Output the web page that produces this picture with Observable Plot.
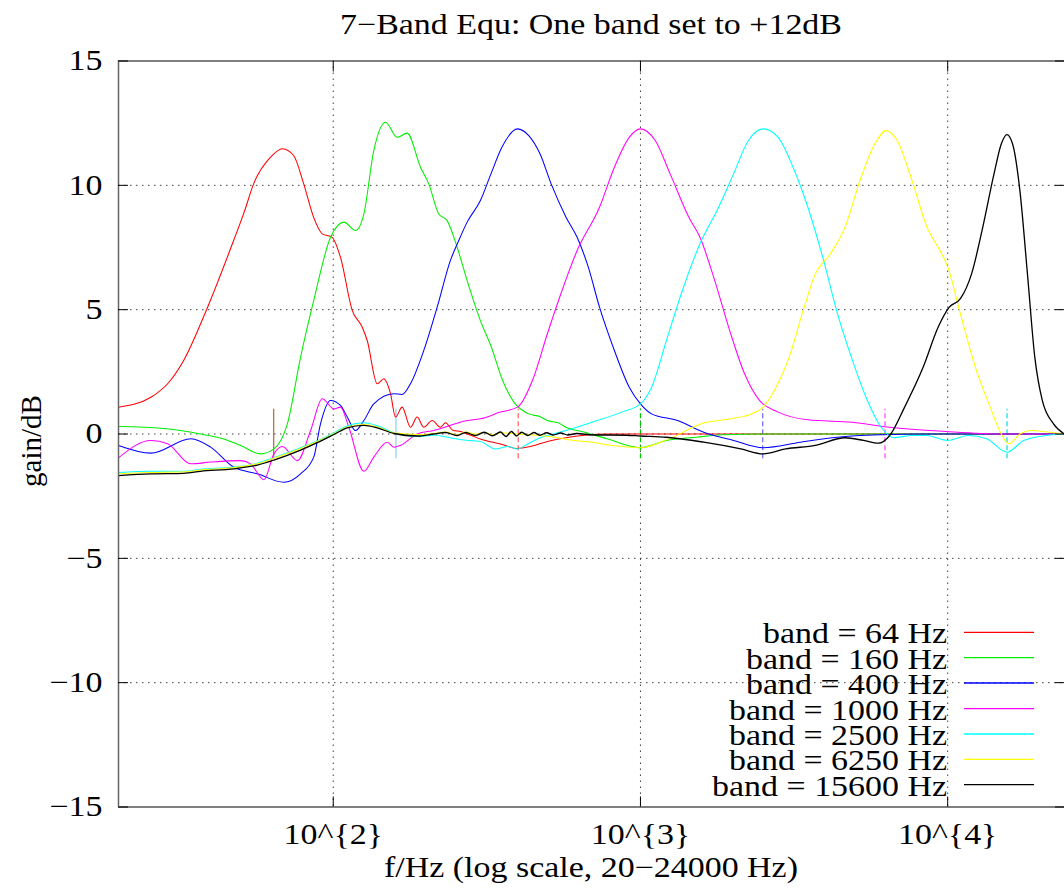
<!DOCTYPE html>
<html><head><meta charset="utf-8">
<script src="https://cdn.jsdelivr.net/npm/d3@7"></script>
<script src="https://cdn.jsdelivr.net/npm/@observablehq/plot@0.6"></script>
<style>
html,body{margin:0;padding:0;background:#fff;}
#chart{width:1064px;height:893px;overflow:hidden;}
</style></head><body><div id="chart"></div>
<script>
// ---- data ----
const titleText = "7\u2212Band Equ: One band set to +12dB";
const xLabelText = "f/Hz (log scale, 20\u221224000 Hz)";
const yLabelText = "gain/dB";
const bandLabels = ["band = 64 Hz","band = 160 Hz","band = 400 Hz","band = 1000 Hz","band = 2500 Hz","band = 6250 Hz","band = 15600 Hz"];
const bandFreqs = [64,160,400,1000,2500,6250,15600];
const markerLevels = [-1, 1];
const xTickValues = [100, 1000, 10000];
const yTickValues = [-15,-10,-5,0,5,10,15];
const gridYValues = [-10,-5,0,5,10];

const band64 = [[20,1.08],[25.5,1.48],[28.9,2.02],[32.6,2.96],[39,5.1],[47.4,7.78],[51.3,8.92],[55.1,10.07],[62.5,11.13],[68.3,11.47],[74.3,11.2],[80.1,10.07],[86.3,8.72],[92.1,8.05],[99.2,7.91],[105.6,7.1],[115.3,4.97],[124.2,4.3],[129,3.76],[139,2.02],[146.1,2.22],[153.6,1.62],[159.5,0.68],[167.6,1.08],[178.4,0.27],[187.6,0.68],[197.1,0.27],[209.9,0.54],[223.3,0.27],[232,0.45],[245,0.15],[260,0.1],[280,-0.05],[301,-0.2],[350,-0.4],[397,-0.58],[438,-0.5],[498,-0.3],[572,-0.15],[658,-0.05],[780,0],[24000,0]];
const band160 = [[20,0.3],[28,0.22],[37,0.0],[44,-0.2],[49.9,-0.46],[58,-0.8],[64.1,-0.6],[70.9,0.41],[78.3,3.09],[86.4,5.37],[98,7.91],[108.3,8.52],[118.2,8.18],[125.8,8.85],[135.5,11.4],[148,12.54],[161.5,11.93],[174,12.1],[192.3,10.73],[204.6,10.06],[220.5,8.85],[234.8,8.58],[253.1,7.51],[272.8,6.17],[301.3,4.56],[327.2,3.49],[356,2.15],[387.3,1.28],[432.9,0.81],[470,0.7],[497.7,0.54],[540,0.45],[572.4,0.27],[657.9,0.07],[777.5,-0.19],[1000,-0.55],[1215,-0.26],[1519,-0.13],[1845,-0.03],[2500,0],[24000,0]];
const band400 = [[20,-0.46],[25.5,-0.77],[34.4,-0.19],[39.9,-0.53],[47.4,-1.33],[56.6,-1.6],[69.1,-1.94],[78.3,-1.6],[86.4,-0.93],[90.9,0.41],[98,1.35],[105.6,1.15],[111.1,0.68],[118.2,0.14],[125.8,0.54],[135.5,1.21],[157.5,1.62],[167.6,1.59],[178.4,2.02],[197.1,3.36],[217.9,5.1],[240.7,6.98],[256.2,7.78],[272.8,8.52],[301.3,9.39],[327,10.5],[353,11.5],[398.1,12.27],[432.9,12.0],[470.9,11.27],[512.1,10.06],[572.4,8.72],[622.2,7.91],[676.4,6.71],[735.7,5.1],[822.5,3.36],[919.5,1.88],[1000,1.21],[1087,0.81],[1321,0.54],[1607,0.07],[2009,-0.26],[2508,-0.55],[3317,-0.33],[4381,-0.13],[6124,-0.03],[8000,0],[24000,0]];
const band1000 = [[20,-0.96],[25.5,-0.26],[28.9,-0.39],[34.4,-1.2],[39.9,-1.13],[49.9,-1.07],[53.8,-1.2],[59.5,-1.84],[64.1,-0.8],[68.3,-0.5],[76.4,-1.07],[84.4,0.14],[92.1,1.42],[100.5,1.01],[105.6,1.08],[112.4,0.27],[125.8,-1.5],[135.5,-0.93],[149.8,-0.33],[157.5,-0.53],[165.5,-0.46],[187.6,0.0],[212.4,0.14],[272.8,0.54],[301.3,0.61],[350,0.88],[398.1,1.08],[445.1,2.15],[497.7,4.03],[541.2,5.37],[622.2,7.38],[735.7,9.12],[822.5,10.73],[919.5,11.93],[1000,12.27],[1117,11.8],[1249,10.46],[1437,8.72],[1562,7.91],[1745,6.17],[1952,4.16],[2182,2.42],[2440,1.35],[2807,0.88],[3506,0.57],[4898,0.47],[6477,0.27],[9835,0.1],[14950,0],[24000,0]];
const band2500 = [[20,-1.55],[25.5,-1.5],[32.6,-1.5],[37,-1.42],[47.4,-1.33],[56.6,-1.18],[64.1,-0.95],[78.3,-0.55],[88.7,-0.28],[100.5,0.05],[111.1,0.32],[125.8,0.45],[139,0.33],[157.5,0.05],[187.6,-0.1],[212.4,-0.05],[240,-0.15],[270,-0.25],[301,-0.3],[337,-0.6],[370,-0.5],[398,-0.6],[430,-0.4],[471,-0.15],[520,0.0],[572,0.14],[695,0.47],[869,0.88],[1000,1.21],[1087,1.88],[1215,3.76],[1358,5.64],[1562,7.65],[1797,9.12],[2009,10.46],[2245,11.8],[2508,12.27],[2807,11.93],[3137,10.73],[3506,9.12],[3920,7.11],[4381,4.83],[4898,2.96],[5476,1.35],[6124,0.21],[6660,-0.15],[7655,-0.06],[8557,-0.06],[10007,-0.26],[11630,-0.06],[13380,-0.19],[15590,-0.73],[17680,-0.26],[20880,-0.06],[24000,0]];
const band6250 = [[20,-1.6],[25.5,-1.55],[32.6,-1.52],[37,-1.45],[47.4,-1.35],[56.6,-1.2],[64.1,-0.98],[78.3,-0.58],[88.7,-0.3],[100.5,0.02],[111.1,0.28],[125.8,0.38],[139,0.28],[157.5,0.05],[187.6,-0.02],[212.4,0.02],[232,0.08],[253,-0.03],[270,0.08],[290,0.0],[310,0.07],[330,-0.03],[350,0.05],[398,0.0],[460,-0.05],[526,-0.13],[600,-0.25],[695,-0.33],[800,-0.45],[1000,-0.55],[1240,-0.19],[1580,0.41],[1960,0.61],[2300,0.81],[2508,1.08],[2728,1.75],[3048,3.09],[3410,5.1],[3708,6.44],[4146,7.24],[4634,8.32],[5182,10.19],[5794,11.67],[6301,12.2],[6847,11.8],[7655,10.19],[8557,8.32],[9568,7.24],[10007,6.71],[11000,4.83],[12300,2.69],[13750,1.08],[14950,0],[15810,-0.39],[17180,0],[18690,0.14],[21510,0.07],[24000,0]];
const band15600 = [[20,-1.67],[25.5,-1.6],[32.6,-1.58],[37,-1.5],[47.4,-1.4],[56.6,-1.25],[64.1,-1.05],[78.3,-0.65],[88.7,-0.35],[100.5,-0.02],[111.1,0.25],[125.8,0.35],[139,0.25],[157.5,0.02],[187.6,-0.08],[212.4,0.0],[232,0.06],[253,-0.06],[270,0.06],[290,-0.06],[310,0.07],[330,-0.07],[350,0.08],[365,-0.1],[380,0.1],[395,-0.08],[410,0.07],[430,-0.06],[450,0.06],[470,-0.05],[495,0.05],[520,-0.04],[550,0.04],[580,-0.04],[620,0.02],[700,-0.04],[800,-0.04],[900,-0.05],[1000,-0.08],[1215,-0.13],[1607,-0.33],[2122,-0.6],[2508,-0.8],[2967,-0.6],[3708,-0.46],[4634,-0.15],[5327,-0.26],[5956,-0.37],[6477,-0.06],[7242,1.08],[8324,2.69],[9307,4.29],[10120,5.1],[11000,5.44],[11960,6.44],[13010,8.32],[14150,10.46],[14950,11.67],[15590,12.04],[16260,11.67],[17180,9.79],[18180,6.44],[19210,3.09],[20320,1.35],[22100,0.41],[24000,0]];

// ---- styles ----
const lineColors = ["#ff0000","#00ee00","#0000ff","#ff00ff","#00ffff","#ffff00","#000000"];
const markerColors = ["#b5682e","#87cefa","#ff5a5a","#00c800","#6a6aff","#ff40ff","#00dede"];
const series = [band64, band160, band400, band1000, band2500, band6250, band15600];
const FONT = "'Liberation Serif','Times New Roman',serif";
const STRETCH = 1.17;

const markers = bandFreqs.map((f, i) => ({f, i, lo: markerLevels[0], hi: markerLevels[1], color: markerColors[i]}));
const fmtY = d => d < 0 ? "\u2212" + Math.abs(d) : String(d);
const fmtX = d => `10^{${Math.round(Math.log10(d))}}`;

const plot = Plot.plot({
  width: 1064, height: 893,
  marginLeft: 118, marginRight: 0, marginTop: 60.5, marginBottom: 86.5,
  style: {fontFamily: FONT, fontSize: "29px", background: "#fff", color: "#000", overflow: "visible"},
  x: {type: "log", domain: [20, 24000]},
  y: {domain: [-15, 15]},
  color: {type: "identity"},
  marks: [
    Plot.gridY(gridYValues, {stroke: "#000", strokeOpacity: 0.75, strokeDasharray: "1.5,4.5"}),
    Plot.gridX(xTickValues, {stroke: "#000", strokeOpacity: 0.75, strokeDasharray: "1.5,4.5"}),
    Plot.ruleX(markers.filter(d => d.i < 2), {x: "f", y1: "lo", y2: "hi", stroke: "color", strokeWidth: 1.2}),
    Plot.ruleX(markers.filter(d => d.i >= 2), {x: "f", y1: "lo", y2: "hi", stroke: "color", strokeWidth: 1.2, strokeDasharray: "5,3"}),
    ...series.map((s, i) => Plot.line(s, {x: d => d[0], y: d => d[1], stroke: lineColors[i], strokeWidth: i === 6 ? 1.3 : 1.05, curve: "monotone-x"})),
    Plot.ruleY([15, -15], {stroke: "#000", strokeWidth: 1.2}),
    Plot.ruleX([20], {stroke: "#666", strokeWidth: 1.5}),
    Plot.axisY(yTickValues, {anchor: "left", tickSize: -10, tickPadding: 26, tickFormat: fmtY, label: null}),
    Plot.axisY(yTickValues, {anchor: "right", tickSize: -10, tickFormat: () => "", label: null}),
    Plot.axisX(xTickValues, {anchor: "bottom", tickSize: -10, tickPadding: 26.5, tickFormat: fmtX, label: null}),
    Plot.axisX(xTickValues, {anchor: "top", tickSize: -10, tickFormat: () => "", label: null})
  ]
});

document.getElementById("chart").appendChild(plot);
const svg = d3.select(plot);

// title
svg.append("text").attr("x", 591).attr("y", 34)
  .attr("text-anchor", "middle").attr("font-family", FONT).attr("font-size", 29).text(titleText);
// x label
svg.append("text").attr("x", 591).attr("y", 877)
  .attr("text-anchor", "middle").attr("font-family", FONT).attr("font-size", 29).text(xLabelText);
// y label
svg.append("text").attr("transform", "translate(41,441) rotate(-90)")
  .attr("text-anchor", "middle").attr("font-family", FONT).attr("font-size", 29).text(yLabelText);

// legend (key inside the plot, bottom right)
const legendRowY = [632.3, 657.7, 683, 708.7, 734, 759.3, 784.7];
const leg = svg.append("g");
bandLabels.forEach((lab, i) => {
  leg.append("text").attr("x", 947).attr("y", legendRowY[i] + 11)
    .attr("text-anchor", "end").attr("font-family", FONT).attr("font-size", 29).text(lab);
  leg.append("line").attr("x1", 964).attr("x2", 1034).attr("y1", legendRowY[i]).attr("y2", legendRowY[i])
    .attr("stroke", lineColors[i]).attr("stroke-width", 1.3);
});

// horizontal stretch of the texts (the reference glyphs are wider than tall)
plot.querySelectorAll("text").forEach(t => {
  if (t.getAttribute("transform") && t.getAttribute("transform").includes("rotate")) return;
  const w = t.getComputedTextLength();
  if (w > 0) {
    t.setAttribute("textLength", (w * STRETCH).toFixed(1));
    t.setAttribute("lengthAdjust", "spacingAndGlyphs");
  }
});
</script>
</body></html>
